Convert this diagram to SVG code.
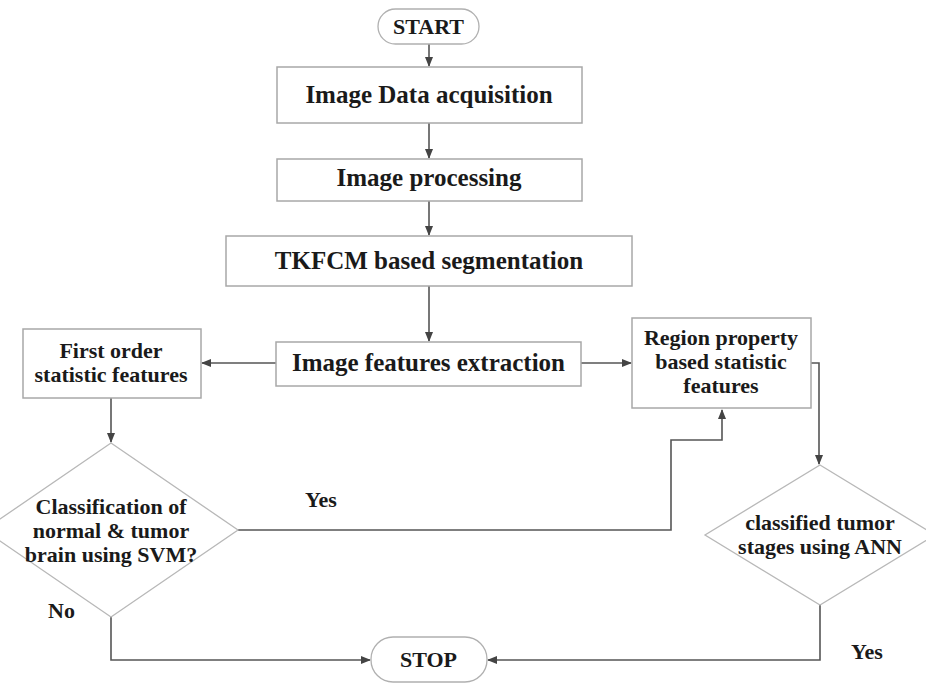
<svg xmlns="http://www.w3.org/2000/svg" width="926" height="683" viewBox="0 0 926 683">
<style>
.box{fill:#fff;stroke:#a8a8a8;stroke-width:1.5}
.term{fill:#fff;stroke:#b0b0b0;stroke-width:1.3}
.dia{fill:#fff;stroke:#b8b8b8;stroke-width:1.3}
.t{font-family:"Liberation Serif","Times New Roman",serif;font-weight:bold;fill:#1a1a1a;text-anchor:middle}
.big{font-size:25px}
.sm{font-size:22px}
.lbl{font-family:"Liberation Serif","Times New Roman",serif;font-weight:bold;fill:#1a1a1a;font-size:22px}
.c{fill:none;stroke:#555;stroke-width:1.6}
</style>
<defs>
<marker id="ah" markerWidth="10" markerHeight="8" refX="9" refY="4" orient="auto" markerUnits="userSpaceOnUse">
<path d="M0,0 L10,4 L0,8 Z" fill="#444"/>
</marker>
</defs>
<rect width="926" height="683" fill="#fff"/>
<g id="connectors">
<path class="c" d="M429,44 V66" marker-end="url(#ah)"/>
<path class="c" d="M429,123 V158" marker-end="url(#ah)"/>
<path class="c" d="M429,201 V235" marker-end="url(#ah)"/>
<path class="c" d="M429,286 V341" marker-end="url(#ah)"/>
<path class="c" d="M276,363 H202" marker-end="url(#ah)"/>
<path class="c" d="M581,363 H631" marker-end="url(#ah)"/>
<path class="c" d="M111,398 V442" marker-end="url(#ah)"/>
<path class="c" d="M238,530 H671 V440 H722 V410" marker-end="url(#ah)"/>
<path class="c" d="M811,363 H819 V464" marker-end="url(#ah)"/>
<path class="c" d="M111,617 V660 H370" marker-end="url(#ah)"/>
<path class="c" d="M820,605 V660 H488" marker-end="url(#ah)"/>
</g>
<g id="start">
<rect class="term" x="378" y="9" width="101" height="35" rx="17.5"/>
<text class="t sm" x="428.5" y="34">START</text>
</g>
<g id="acquisition">
<rect class="box" x="277" y="67" width="305" height="56"/>
<text class="t big" x="429" y="103">Image Data acquisition</text>
</g>
<g id="processing">
<rect class="box" x="277" y="159" width="305" height="42"/>
<text class="t big" x="429" y="186">Image processing</text>
</g>
<g id="segmentation">
<rect class="box" x="226" y="236" width="406" height="50"/>
<text class="t big" x="429" y="269">TKFCM based segmentation</text>
</g>
<g id="extraction">
<rect class="box" x="276" y="342" width="305" height="44"/>
<text class="t big" x="428.5" y="371">Image features extraction</text>
</g>
<g id="first-order">
<rect class="box" x="23" y="329" width="178" height="69"/>
<text class="t sm" x="111" y="358">First order</text>
<text class="t sm" x="111" y="382">statistic features</text>
</g>
<g id="region">
<rect class="box" x="632" y="318" width="179" height="90"/>
<text class="t sm" x="721" y="345">Region property</text>
<text class="t sm" x="721" y="369">based statistic</text>
<text class="t sm" x="721" y="393">features</text>
</g>
<g id="svm">
<polygon class="dia" points="111,443 238,530 111,617 -16,530"/>
<text class="t sm" x="111" y="514">Classification of</text>
<text class="t sm" x="111" y="538">normal &amp; tumor</text>
<text class="t sm" x="111" y="562">brain using SVM?</text>
</g>
<g id="ann">
<polygon class="dia" points="820,465 935,535 820,605 705,535"/>
<text class="t sm" x="820" y="530">classified tumor</text>
<text class="t sm" x="820" y="554">stages using ANN</text>
</g>
<g id="stop">
<rect class="term" x="371" y="637" width="116" height="45" rx="22"/>
<text class="t sm" x="428.5" y="667">STOP</text>
</g>
<g id="labels">
<text class="lbl" x="305" y="507">Yes</text>
<text class="lbl" x="48" y="618">No</text>
<text class="lbl" x="851" y="659">Yes</text>
</g>
</svg>
